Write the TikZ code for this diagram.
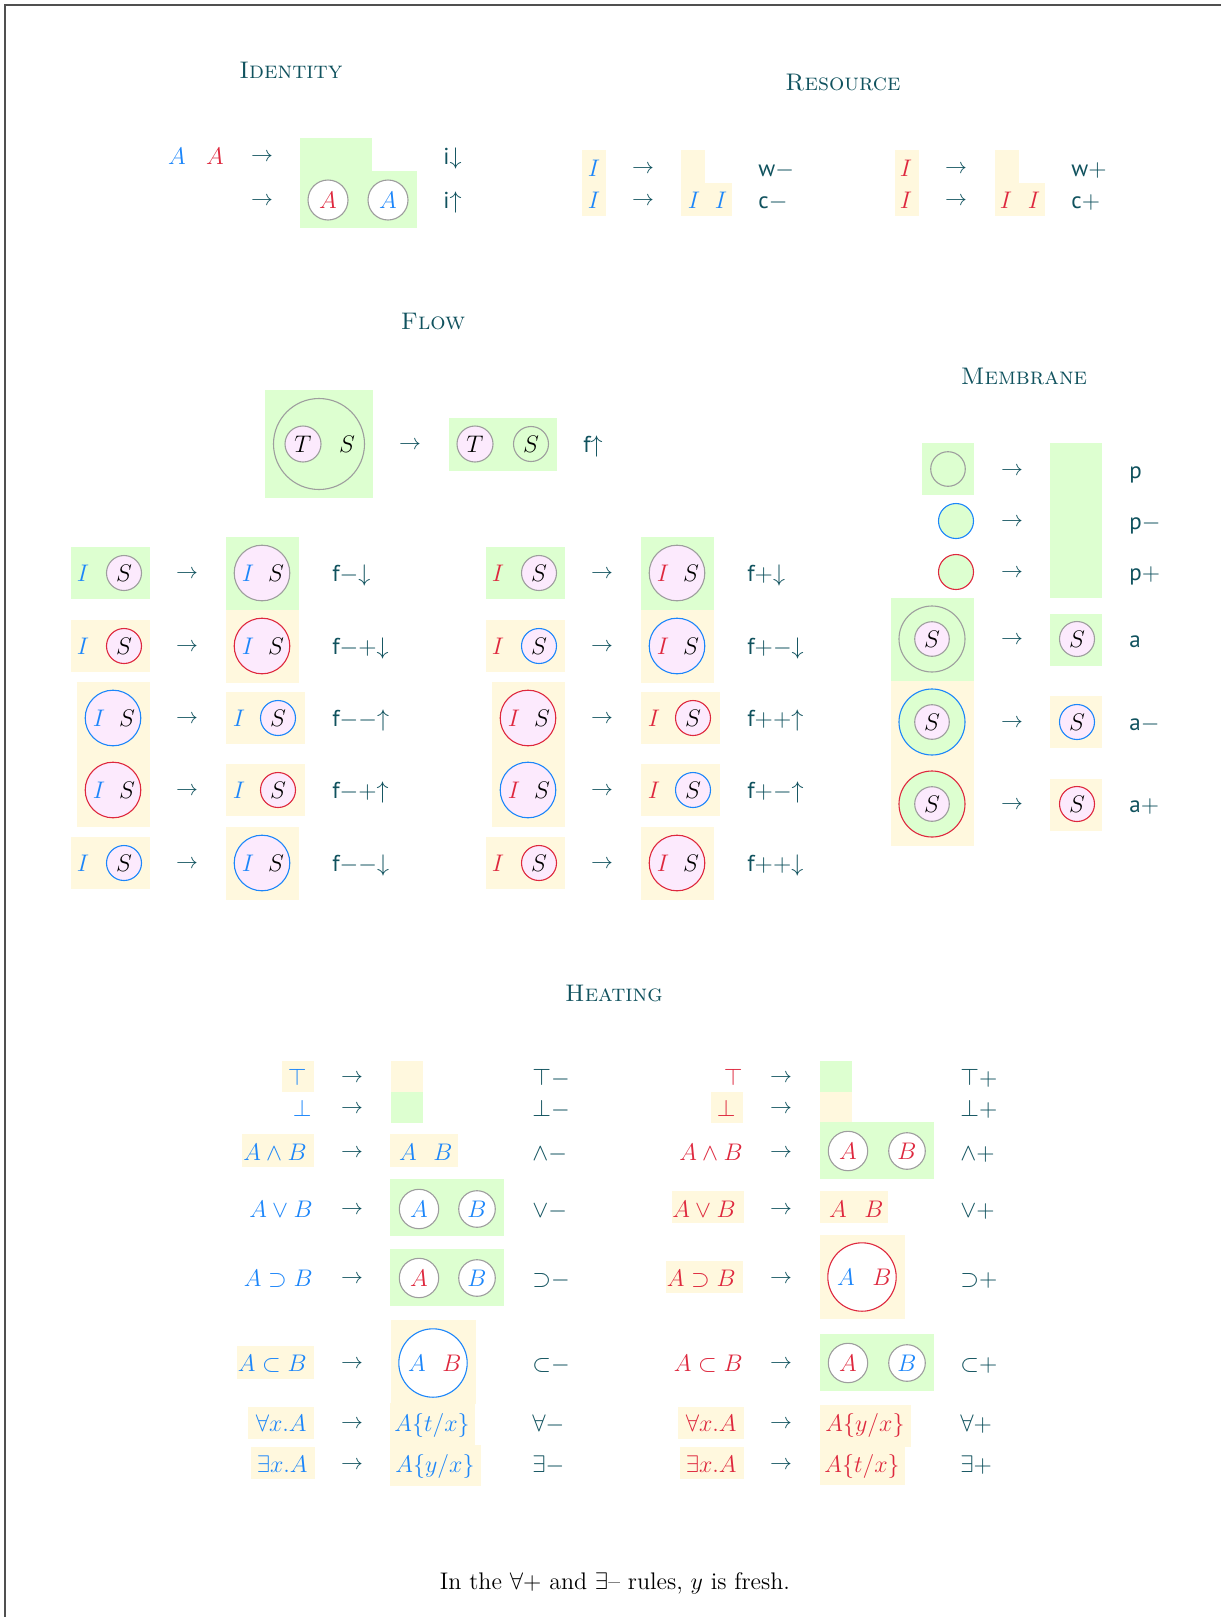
\documentclass[tikz,border=0pt]{standalone}
\usepackage{fontspec}
\newfontfamily\labfont{PT Sans}
\definecolor{tealc}{RGB}{16,82,94}
\definecolor{bluec}{RGB}{28,134,250}
\definecolor{redc}{RGB}{222,40,62}
\definecolor{greenbg}{RGB}{221,255,208}
\definecolor{yellowbg}{RGB}{255,248,222}
\definecolor{pinkc}{RGB}{252,234,253}
\definecolor{grayc}{RGB}{158,158,158}
\definecolor{framec}{RGB}{80,80,80}
\newcounter{nn}
\tikzset{
  autoname/.code={\stepcounter{nn}\edef\tmpn{\noexpand\pgfkeysalso{/tikz/name=n\arabic{nn}}}\tmpn},
  every node/.style={autoname},
  mtxt/.style={inner sep=0pt, font=\fontsize{12}{14}\selectfont, text height=8.2pt, text depth=0pt},
  arrtxt/.style={inner sep=0pt, text=tealc, font=\fontsize{10.5}{12}\selectfont, text height=5.2pt, text depth=0pt},
  labtxt/.style={inner sep=0pt, anchor=west, text=tealc, font=\labfont\fontsize{11.5}{13}\selectfont, text height=8pt, text depth=0pt},
  ttl/.style={inner sep=0pt, text=tealc, font=\fontsize{12}{14}\selectfont\scshape},
}
\newcommand\bx[5]{\fill[#1] (#2,#3) rectangle (#4,#5);}
\newcommand\crc[5]{\draw[#4,#5,line width=0.55pt] (#1,#2) circle[radius=#3*0.5pt];}
\newcommand\mt[4]{\node[mtxt,text=#3] at (#1,#2) {$#4$};}
\newcommand\mte[4]{\node[mtxt,anchor=east,text=#3] at (#1,#2) {$#4$};}
\newcommand\arr[2]{\node[arrtxt] at (#1,#2) {$\rightarrow$};}
\newcommand\lab[3]{\node[labtxt] at (#1,#2) {#3};}
% flow row, type A
\newcommand\flowA[8]{%
 \bx{#4}{71+#1}{#2-26}{150+#1}{#2+26}
 \mt{83+#1}{#2}{#3}{I}
 \crc{124+#1}{#2}{17.5}{#5}{fill=pinkc}
 \mt{124+#1}{#2}{black}{S}
 \arr{187+#1}{#2}
 \bx{#6}{226+#1}{#2-36.5}{299+#1}{#2+36.5}
 \crc{262+#1}{#2}{27.8}{#7}{fill=pinkc}
 \mt{248+#1}{#2}{#3}{I}
 \mt{276+#1}{#2}{black}{S}
 \lab{332+#1}{#2}{#8}}
% flow row, type B
\newcommand\flowB[5]{%
 \crc{113+#1}{#2}{27.8}{#4}{fill=pinkc}
 \mt{99+#1}{#2}{#3}{I}
 \mt{127+#1}{#2}{black}{S}
 \arr{187+#1}{#2}
 \bx{yellowbg}{226+#1}{#2-26}{305+#1}{#2+26}
 \mt{239+#1}{#2}{#3}{I}
 \crc{278+#1}{#2}{17.5}{#4}{fill=pinkc}
 \mt{278+#1}{#2}{black}{S}
 \lab{332+#1}{#2}{#5}}
\begin{document}
\begin{tikzpicture}[x=0.5pt,y=-0.5pt]
\useasboundingbox (0,0) rectangle (1221,1617);
\fill[white] (0,0) rectangle (1221,1617);
\draw[framec,line width=0.6pt] (5,1617) -- (5,5) -- (1221,5);

% ---------------- Identity
\node[ttl] at (291,70) {Identity};
\bx{greenbg}{300}{138}{372}{172}
\bx{greenbg}{300}{171}{417}{228}
\mt{177}{156}{bluec}{A}
\mt{215}{156}{redc}{A}
\arr{262}{156}
\arr{262}{200}
\crc{328}{200}{20}{grayc}{fill=white}
\crc{388}{200}{20}{grayc}{fill=white}
\mt{328}{200}{redc}{A}
\mt{388}{200}{bluec}{A}
\lab{443}{156}{i$\downarrow$}
\lab{443}{200}{i$\uparrow$}

% ---------------- Resource
\node[ttl] at (843,83) {Resource};
\bx{yellowbg}{582}{150}{606}{216}
\mt{594}{168}{bluec}{I}
\mt{594}{200}{bluec}{I}
\arr{643}{168}
\arr{643}{200}
\bx{yellowbg}{681}{150}{705}{184}
\bx{yellowbg}{681}{183}{732}{216}
\mt{694}{200}{bluec}{I}
\mt{721}{200}{bluec}{I}
\lab{758}{168}{w$-$}
\lab{758}{200}{c$-$}
\bx{yellowbg}{895}{150}{919}{216}
\mt{906}{168}{redc}{I}
\mt{906}{200}{redc}{I}
\arr{956}{168}
\arr{956}{200}
\bx{yellowbg}{995}{150}{1019}{184}
\bx{yellowbg}{995}{183}{1045}{216}
\mt{1006}{200}{redc}{I}
\mt{1034}{200}{redc}{I}
\lab{1071}{168}{w$+$}
\lab{1071}{200}{c$+$}

% ---------------- Flow
\node[ttl] at (433,322) {Flow};
\bx{greenbg}{265}{390}{373}{498}
\crc{319}{444}{45.5}{grayc}{fill=none}
\crc{303}{444}{18}{grayc}{fill=pinkc}
\mt{303}{444}{black}{T}
\mt{347}{444}{black}{S}
\arr{410}{444}
\bx{greenbg}{449}{418}{557}{471}
\crc{475}{444}{18}{grayc}{fill=pinkc}
\mt{475}{444}{black}{T}
\crc{531}{444}{17.5}{grayc}{fill=none}
\mt{531}{444}{black}{S}
\lab{583}{444}{f$\uparrow$}

\flowA{0}{573}{bluec}{greenbg}{grayc}{greenbg}{grayc}{f$-$$\downarrow$}
\flowA{0}{646}{bluec}{yellowbg}{redc}{yellowbg}{redc}{f$-$$+$$\downarrow$}
\bx{yellowbg}{77}{682}{150}{827}
\flowB{0}{718}{bluec}{bluec}{f$-$$-$$\uparrow$}
\flowB{0}{790}{bluec}{redc}{f$-$$+$$\uparrow$}
\flowA{0}{863}{bluec}{yellowbg}{bluec}{yellowbg}{bluec}{f$-$$-$$\downarrow$}

\flowA{415}{573}{redc}{greenbg}{grayc}{greenbg}{grayc}{f$+$$\downarrow$}
\flowA{415}{646}{redc}{yellowbg}{bluec}{yellowbg}{bluec}{f$+$$-$$\downarrow$}
\bx{yellowbg}{492}{682}{565}{827}
\flowB{415}{718}{redc}{redc}{f$+$$+$$\uparrow$}
\flowB{415}{790}{redc}{bluec}{f$+$$-$$\uparrow$}
\flowA{415}{863}{redc}{yellowbg}{redc}{yellowbg}{redc}{f$+$$+$$\downarrow$}

% ---------------- Membrane
\node[ttl] at (1024,376) {Membrane};
\bx{greenbg}{922}{443}{974}{495}
\crc{948}{469}{17.3}{grayc}{fill=none}
\crc{956}{521}{17.5}{bluec}{fill=greenbg}
\crc{956}{572}{17.5}{redc}{fill=greenbg}
\arr{1012}{470}
\arr{1012}{521}
\arr{1012}{572}
\bx{greenbg}{1050}{443}{1102}{598}
\lab{1129}{470}{p}
\lab{1129}{521}{p$-$}
\lab{1129}{572}{p$+$}
\bx{greenbg}{891}{598}{974}{682}
\bx{yellowbg}{891}{681}{974}{846}
\crc{932}{639}{33}{grayc}{fill=none}
\crc{932}{722}{33}{bluec}{fill=greenbg}
\crc{932}{804}{33}{redc}{fill=greenbg}
\crc{932}{639}{17.3}{grayc}{fill=pinkc}
\crc{932}{722}{17.3}{grayc}{fill=pinkc}
\crc{932}{804}{17.3}{grayc}{fill=pinkc}
\mt{932}{639}{black}{S}
\mt{932}{722}{black}{S}
\mt{932}{804}{black}{S}
\arr{1012}{639}
\arr{1012}{722}
\arr{1012}{804}
\bx{greenbg}{1050}{614}{1102}{666}
\bx{yellowbg}{1050}{696}{1102}{748}
\bx{yellowbg}{1050}{779}{1102}{831}
\crc{1077}{639}{17.5}{grayc}{fill=pinkc}
\crc{1077}{722}{17.5}{bluec}{fill=pinkc}
\crc{1077}{804}{17.5}{redc}{fill=pinkc}
\mt{1077}{639}{black}{S}
\mt{1077}{722}{black}{S}
\mt{1077}{804}{black}{S}
\lab{1129}{639}{a}
\lab{1129}{722}{a$-$}
\lab{1129}{804}{a$+$}

% ---------------- Heating
\node[ttl] at (614,993) {Heating};
% left half (blue)
\bx{yellowbg}{282}{1061}{314}{1092}
\bx{yellowbg}{242}{1134}{314}{1167}
\bx{yellowbg}{237}{1346}{314}{1379}
\bx{yellowbg}{248}{1407}{314}{1439}
\bx{yellowbg}{251}{1447}{315}{1479}
\mte{307}{1077}{bluec}{\top}
\mte{312}{1108}{bluec}{\bot}
\mte{307}{1152}{bluec}{A\wedge B}
\mte{313}{1209}{bluec}{A\vee B}
\mte{313}{1278}{bluec}{A\supset B}
\mte{307}{1363}{bluec}{A\subset B}
\mte{307}{1423}{bluec}{\forall x.A}
\mte{308}{1464}{bluec}{\exists x.A}
\arr{352}{1077}
\arr{352}{1108}
\arr{352}{1152}
\arr{352}{1209}
\arr{352}{1278}
\arr{352}{1363}
\arr{352}{1423}
\arr{352}{1464}
\bx{yellowbg}{391}{1061}{423}{1093}
\bx{greenbg}{391}{1092}{423}{1123}
\bx{yellowbg}{390}{1134}{458}{1167}
\mt{408}{1152}{bluec}{A}
\mt{443}{1152}{bluec}{B}
\bx{greenbg}{390}{1179}{504}{1236}
\crc{419}{1209}{19.7}{grayc}{fill=white}
\crc{477}{1209}{18.3}{grayc}{fill=white}
\mt{419}{1209}{bluec}{A}
\mt{477}{1209}{bluec}{B}
\bx{greenbg}{390}{1249}{504}{1306}
\crc{419}{1278}{19.7}{grayc}{fill=white}
\crc{477}{1278}{18.3}{grayc}{fill=white}
\mt{419}{1278}{redc}{A}
\mt{477}{1278}{bluec}{B}
\bx{yellowbg}{391}{1320}{476}{1404}
\crc{433}{1363}{34.2}{bluec}{fill=white}
\mt{417}{1363}{bluec}{A}
\mt{452}{1363}{redc}{B}
\bx{yellowbg}{390}{1403}{475}{1446}
\bx{yellowbg}{390}{1445}{481}{1486}
\mt{432}{1423}{bluec}{A\{t/x\}}
\mt{435}{1464}{bluec}{A\{y/x\}}
\lab{532}{1077}{$\top$$-$}
\lab{532}{1108}{$\bot$$-$}
\lab{532}{1152}{$\wedge$$-$}
\lab{532}{1209}{$\vee$$-$}
\lab{532}{1278}{$\supset$$-$}
\lab{532}{1363}{$\subset$$-$}
\lab{532}{1423}{$\forall$$-$}
\lab{532}{1464}{$\exists$$-$}
% right half (red)
\bx{yellowbg}{711}{1092}{743}{1123}
\bx{yellowbg}{672}{1191}{744}{1223}
\bx{yellowbg}{666}{1261}{743}{1293}
\bx{yellowbg}{678}{1407}{744}{1439}
\bx{yellowbg}{680}{1447}{744}{1479}
\mte{743}{1077}{redc}{\top}
\mte{736}{1108}{redc}{\bot}
\mte{743}{1152}{redc}{A\wedge B}
\mte{736}{1209}{redc}{A\vee B}
\mte{736}{1278}{redc}{A\supset B}
\mte{743}{1363}{redc}{A\subset B}
\mte{737}{1423}{redc}{\forall x.A}
\mte{737}{1464}{redc}{\exists x.A}
\arr{781}{1077}
\arr{781}{1108}
\arr{781}{1152}
\arr{781}{1209}
\arr{781}{1278}
\arr{781}{1363}
\arr{781}{1423}
\arr{781}{1464}
\bx{greenbg}{820}{1061}{852}{1093}
\bx{yellowbg}{820}{1092}{852}{1123}
\bx{greenbg}{820}{1122}{934}{1179}
\crc{848}{1151}{19.7}{grayc}{fill=white}
\crc{907}{1151}{18.3}{grayc}{fill=white}
\mt{848}{1151}{redc}{A}
\mt{907}{1151}{redc}{B}
\bx{yellowbg}{820}{1191}{888}{1223}
\mt{838}{1209}{redc}{A}
\mt{874}{1209}{redc}{B}
\bx{yellowbg}{820}{1235}{905}{1319}
\crc{862}{1277}{34.2}{redc}{fill=white}
\mt{846}{1277}{bluec}{A}
\mt{882}{1277}{redc}{B}
\bx{greenbg}{820}{1334}{934}{1391}
\crc{848}{1363}{19.7}{grayc}{fill=white}
\crc{907}{1363}{18.3}{grayc}{fill=white}
\mt{848}{1363}{redc}{A}
\mt{907}{1363}{bluec}{B}
\bx{yellowbg}{820}{1405}{911}{1447}
\bx{yellowbg}{820}{1446}{905}{1485}
\mt{865}{1423}{redc}{A\{y/x\}}
\mt{862}{1464}{redc}{A\{t/x\}}
\lab{960}{1077}{$\top$$+$}
\lab{960}{1108}{$\bot$$+$}
\lab{960}{1152}{$\wedge$$+$}
\lab{960}{1209}{$\vee$$+$}
\lab{960}{1278}{$\supset$$+$}
\lab{960}{1363}{$\subset$$+$}
\lab{960}{1423}{$\forall$$+$}
\lab{960}{1464}{$\exists$$+$}

% ---------------- Footer
\node[inner sep=0pt, font=\fontsize{12}{14}\selectfont] at (615,1583) {In the $\forall$+ and $\exists$-- rules, $y$ is fresh.};
\end{tikzpicture}
\end{document}
